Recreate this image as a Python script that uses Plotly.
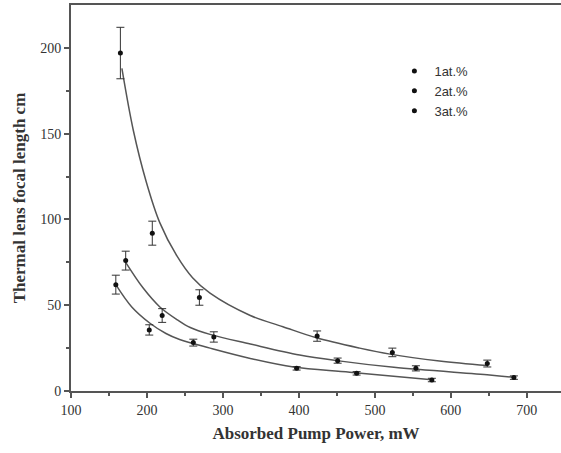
import plotly.graph_objects as go

# measured points
x1 = [165, 207, 269, 424, 523, 648]
y1 = [197, 92, 54.5, 32, 22.5, 16]
e1 = [15, 7, 4.5, 3, 2.5, 2]

x2 = [172, 220, 288, 451, 554, 683]
y2 = [76, 44, 31.5, 17.7, 13.2, 7.8]
e2 = [5.5, 4, 3, 1.5, 1.5, 1]

x3 = [159, 203, 261, 397, 476, 575]
y3 = [62, 35.6, 28.2, 13.2, 10.3, 6.4]
e3 = [5.5, 3, 2, 1, 1, 1]

# fitted curves
cx1 = [167, 182, 199, 217, 239, 260, 283, 336, 379, 423, 480, 520, 585, 648]
cy1 = [188, 152, 122, 98, 79, 66, 57, 44, 37.5, 31, 25, 21.5, 17.5, 14.8]
cx2 = [172, 195, 217, 240, 257, 283, 336, 401, 450, 525, 651, 683]
cy2 = [75, 60, 49, 41.5, 37, 33, 27.4, 21, 17.7, 13.8, 9.3, 7.9]
cx3 = [159, 180, 204, 225, 243, 283, 336, 393, 467, 575]
cy3 = [62, 49, 39.5, 33.5, 30, 25, 19, 14, 11, 6.5]

names = ["1at.%", "2at.%", "3at.%"]
serif = "Liberation Serif"

fig = go.Figure()
for cx, cy in [(cx1, cy1), (cx2, cy2), (cx3, cy3)]:
    fig.add_trace(go.Scatter(x=cx, y=cy, mode="lines",
                             line=dict(color="#555555", width=1.5, shape="spline", smoothing=1.0),
                             showlegend=False, hoverinfo="skip"))
for xs, ys, es, nm in [(x1, y1, e1, names[0]), (x2, y2, e2, names[1]), (x3, y3, e3, names[2])]:
    fig.add_trace(go.Scatter(x=xs, y=ys, mode="markers", name=nm,
                             marker=dict(color="#111111", size=5, symbol="circle"),
                             error_y=dict(type="data", array=es, color="#333333", thickness=1, width=4)))

fig.update_layout(
    width=561, height=453,
    margin=dict(l=71, r=0, t=5, b=62),
    paper_bgcolor="white", plot_bgcolor="white",
    showlegend=True,
    legend=dict(x=0.66, y=0.868, xanchor="left", yanchor="top", bgcolor="rgba(0,0,0,0)",
                font=dict(family="Liberation Sans", size=13, color="#333333"), tracegroupgap=0),
    xaxis=dict(range=[100, 745], tickvals=[100, 200, 300, 400, 500, 600, 700], showgrid=False, zeroline=False,
               showline=True, linecolor="#555555", linewidth=2, mirror=True,
               ticks="outside", ticklen=5, tickcolor="#555555", tickwidth=1.5,
               minor=dict(tickvals=[150, 250, 350, 450, 550, 650], ticks="outside", ticklen=3, tickcolor="#555555"),
               tickfont=dict(family=serif, size=14, color="#333333"),
               title=dict(text="<b>Absorbed Pump Power, mW</b>", font=dict(family=serif, size=17, color="#333333"), standoff=10)),
    yaxis=dict(range=[0, 225], tickvals=[0, 50, 100, 150, 200], showgrid=False, zeroline=False,
               showline=True, linecolor="#555555", linewidth=2, mirror=False,
               ticks="outside", ticklen=5, tickcolor="#555555", tickwidth=1.5,
               minor=dict(tickvals=[25, 75, 125, 175], ticks="outside", ticklen=3, tickcolor="#555555"),
               tickfont=dict(family=serif, size=14, color="#333333"),
               title=dict(text="<b>Thermal lens focal length cm</b>", font=dict(family=serif, size=17, color="#333333"), standoff=10)),
)
fig.write_html("out.html")
